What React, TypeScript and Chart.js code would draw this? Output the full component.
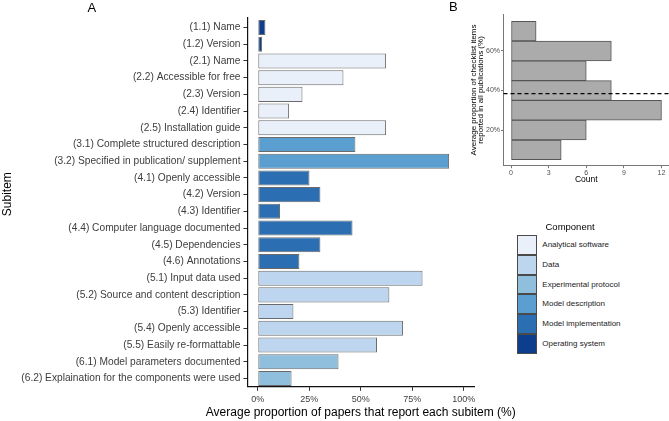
import React, { useEffect, useRef } from "react";
import { Chart, registerables } from "chart.js";

Chart.register(...registerables);

const FONT = '"Liberation Sans", Arial, Helvetica, sans-serif';
Chart.defaults.font.family = FONT;

// ---------- Panel A data ----------
const subitems = [
  "(1.1) Name",
  "(1.2) Version",
  "(2.1) Name",
  "(2.2) Accessible for free",
  "(2.3) Version",
  "(2.4) Identifier",
  "(2.5) Installation guide",
  "(3.1) Complete structured description",
  "(3.2) Specified in publication/ supplement",
  "(4.1) Openly accessible",
  "(4.2) Version",
  "(4.3) Identifier",
  "(4.4) Computer language documented",
  "(4.5) Dependencies",
  "(4.6) Annotations",
  "(5.1) Input data used",
  "(5.2) Source and content description",
  "(5.3) Identifier",
  "(5.4) Openly accessible",
  "(5.5) Easily re-formattable",
  "(6.1) Model parameters documented",
  "(6.2) Explaination for the components were used",
];

const subitemComponents = [
  "Operating system",
  "Operating system",
  "Analytical software",
  "Analytical software",
  "Analytical software",
  "Analytical software",
  "Analytical software",
  "Model description",
  "Model description",
  "Model implementation",
  "Model implementation",
  "Model implementation",
  "Model implementation",
  "Model implementation",
  "Model implementation",
  "Data",
  "Data",
  "Data",
  "Data",
  "Data",
  "Experimental protocol",
  "Experimental protocol",
];

const subitemProportions = [
  3.7, 2.1, 62.3, 41.6, 21.7, 15.2, 62.3, 47.4, 92.9, 25.1, 30.4, 10.8, 46.0,
  30.4, 20.2, 80.0, 63.9, 17.3, 70.5, 57.9, 39.2, 16.4,
];

const componentNames = [
  "Analytical software",
  "Data",
  "Experimental protocol",
  "Model description",
  "Model implementation",
  "Operating system",
];
const componentColors = [
  "#E9F0FA",
  "#BDD5EE",
  "#90BFDD",
  "#5A9FCF",
  "#2B6EB2",
  "#0D3E8C",
];

const xTicksA = [0, 25, 50, 75, 100];
const xTitleA = "Average proportion of papers that report each subitem (%)";
const yTitleA = "Subitem";

// ---------- Panel B data ----------
const histBinCenters = [10, 20, 30, 40, 50, 60, 70];
const histCounts = [4, 6, 12, 8, 6, 8, 2];
const histYTicks = [20, 40, 60];
const histXTicks = [0, 3, 6, 9, 12];
const meanProportion = 38.4;

const meanLinePlugin = {
  id: "meanLine",
  afterDatasetsDraw(chart: any) {
    const { ctx, chartArea, scales } = chart;
    const y = scales.y.getPixelForValue(meanProportion);
    ctx.save();
    ctx.setLineDash([4, 3]);
    ctx.strokeStyle = "#000";
    ctx.lineWidth = 1.2;
    ctx.beginPath();
    ctx.moveTo(chartArea.left, y);
    ctx.lineTo(chartArea.right, y);
    ctx.stroke();
    ctx.restore();
  },
};

// y-axis title of panel A, drawn slightly above the panel centre like the reference
const sideTitlePlugin = {
  id: "sideTitle",
  afterDraw(chart: any) {
    const { ctx, chartArea } = chart;
    const cy = (chartArea.top + chartArea.bottom) / 2 - 8;
    ctx.save();
    ctx.translate(7.5, cy);
    ctx.rotate(-Math.PI / 2);
    ctx.font = `12px ${FONT}`;
    ctx.fillStyle = "#000";
    ctx.textAlign = "center";
    ctx.textBaseline = "middle";
    ctx.fillText(yTitleA, 0, 0);
    ctx.restore();
  },
};

export default function App() {
  const refA = useRef<HTMLCanvasElement>(null);
  const refB = useRef<HTMLCanvasElement>(null);

  useEffect(() => {
    const chartA = new Chart(refA.current!, {
      type: "bar",
      data: {
        datasets: [
          {
            data: subitemProportions.map((v, i) => ({ x: v, y: i + 1 })) as any,
            backgroundColor: subitemComponents.map(
              (c) => componentColors[componentNames.indexOf(c)]
            ),
            borderColor: "#6a6a6a",
            borderWidth: 1,
            borderSkipped: false,
            barPercentage: 0.9,
            categoryPercentage: 1,
          },
        ],
      },
      options: {
        indexAxis: "y",
        animation: false,
        responsive: false,
        layout: { padding: { top: 17.5, right: 6, bottom: 2, left: 0 } },
        plugins: { legend: { display: false }, tooltip: { enabled: false } },
        scales: {
          x: {
            type: "linear",
            min: -5,
            max: 105,
            offset: false,
            afterBuildTicks: (s: any) => {
              s.ticks = xTicksA.map((v) => ({ value: v }));
            },
            afterFit: (s: any) => {
              s.height = 32.2;
            },
            grid: {
              drawOnChartArea: false,
              drawTicks: true,
              tickLength: 4,
              tickColor: "#333",
              offset: false,
            },
            border: { color: "#111", width: 1.2 },
            ticks: {
              font: { size: 9 },
              color: "#3d3d3d",
              padding: 3,
              maxRotation: 0,
              callback: (v: any) => v + "%",
            },
          },
          y: {
            type: "linear",
            min: 0.4,
            max: 22.5,
            reverse: true,
            offset: false,
            afterBuildTicks: (s: any) => {
              s.ticks = subitems.map((_, i) => ({ value: i + 1 }));
            },
            afterFit: (s: any) => {
              s.width = 247.5;
            },
            grid: {
              drawOnChartArea: false,
              drawTicks: true,
              tickLength: 4,
              tickColor: "#333",
              offset: false,
            },
            border: { color: "#111", width: 1.2 },
            ticks: {
              font: { size: 10.2 },
              color: "#3d3d3d",
              padding: 3,
              autoSkip: false,
              callback: (v: any) => subitems[Math.round(v) - 1],
            },
          },
        },
      },
      plugins: [sideTitlePlugin],
    });

    const chartB = new Chart(refB.current!, {
      type: "bar",
      data: {
        datasets: [
          {
            data: histCounts.map((c, i) => ({ x: c, y: histBinCenters[i] })) as any,
            backgroundColor: "#ababab",
            borderColor: "#555",
            borderWidth: 1,
            borderSkipped: false,
            barPercentage: 1,
            categoryPercentage: 1,
          },
        ],
      },
      options: {
        indexAxis: "y",
        animation: false,
        responsive: false,
        layout: { padding: { top: 14.3, right: 0, bottom: 5.6, left: 0 } },
        plugins: { legend: { display: false }, tooltip: { enabled: false } },
        scales: {
          x: {
            type: "linear",
            min: -0.6,
            max: 12.6,
            offset: false,
            afterBuildTicks: (s: any) => {
              s.ticks = histXTicks.map((v) => ({ value: v }));
            },
            afterFit: (s: any) => {
              s.height = 18.7;
            },
            grid: {
              drawOnChartArea: false,
              drawTicks: true,
              tickLength: 2.5,
              tickColor: "#777",
              offset: false,
            },
            border: { color: "#777", width: 1 },
            ticks: {
              font: { size: 7 },
              color: "#4d4d4d",
              padding: 0.5,
              maxRotation: 0,
            },
            title: {
              display: true,
              text: "Count",
              font: { size: 8.5 },
              color: "#000",
              padding: 0,
            },
          },
          y: {
            type: "linear",
            min: 2,
            max: 78.5,
            offset: false,
            afterBuildTicks: (s: any) => {
              s.ticks = histYTicks.map((v) => ({ value: v }));
            },
            afterFit: (s: any) => {
              s.width = 43.5;
            },
            grid: {
              drawOnChartArea: false,
              drawTicks: true,
              tickLength: 2.5,
              tickColor: "#777",
              offset: false,
            },
            border: { color: "#777", width: 1 },
            ticks: {
              font: { size: 7 },
              color: "#4d4d4d",
              padding: 1,
              callback: (v: any) => v + "%",
            },
            title: {
              display: true,
              text: [
                "Average proportion of checklist items",
                "reported in all publications (%)",
              ],
              font: { size: 8, lineHeight: 0.95 },
              color: "#000",
              padding: { top: 9.7, bottom: 0 },
            },
          },
        },
      },
      plugins: [meanLinePlugin],
    });

    return () => {
      chartA.destroy();
      chartB.destroy();
    };
  }, []);

  return (
    <div
      style={{
        position: "fixed",
        left: 0,
        top: 0,
        width: 669,
        height: 421,
        background: "#fff",
        fontFamily: FONT,
        overflow: "hidden",
      }}
    >
      <canvas
        ref={refA}
        width={480}
        height={421}
        style={{ position: "absolute", left: 0, top: 0 }}
      />
      <canvas
        ref={refB}
        width={209}
        height={190}
        style={{ position: "absolute", left: 460, top: 0 }}
      />
      <div
        style={{
          position: "absolute",
          left: 360.8,
          top: 404,
          transform: "translateX(-50%)",
          fontSize: 12,
          lineHeight: "16px",
          color: "#000",
          whiteSpace: "nowrap",
        }}
      >
        {xTitleA}
      </div>
      <div
        style={{
          position: "absolute",
          left: 87.5,
          top: 1,
          fontSize: 13,
          lineHeight: "14px",
          color: "#000",
        }}
      >
        A
      </div>
      <div
        style={{
          position: "absolute",
          left: 449,
          top: 0,
          fontSize: 13,
          lineHeight: "14px",
          color: "#000",
        }}
      >
        B
      </div>
      <div
        style={{
          position: "absolute",
          left: 545.5,
          top: 221,
          fontSize: 9.5,
          lineHeight: "11px",
          color: "#000",
        }}
      >
        Component
      </div>
      {componentNames.map((name, i) => (
        <React.Fragment key={name}>
          <div
            style={{
              position: "absolute",
              left: 517.3,
              top: 235 + i * 19.8,
              width: 20,
              height: 19.8,
              boxSizing: "border-box",
              background: componentColors[i],
              border: "1px solid #4a4a4a",
            }}
          />
          <div
            style={{
              position: "absolute",
              left: 542.3,
              top: 235 + i * 19.8,
              height: 19.8,
              lineHeight: "19.8px",
              fontSize: 8,
              color: "#222",
              whiteSpace: "nowrap",
            }}
          >
            {name}
          </div>
        </React.Fragment>
      ))}
    </div>
  );
}
